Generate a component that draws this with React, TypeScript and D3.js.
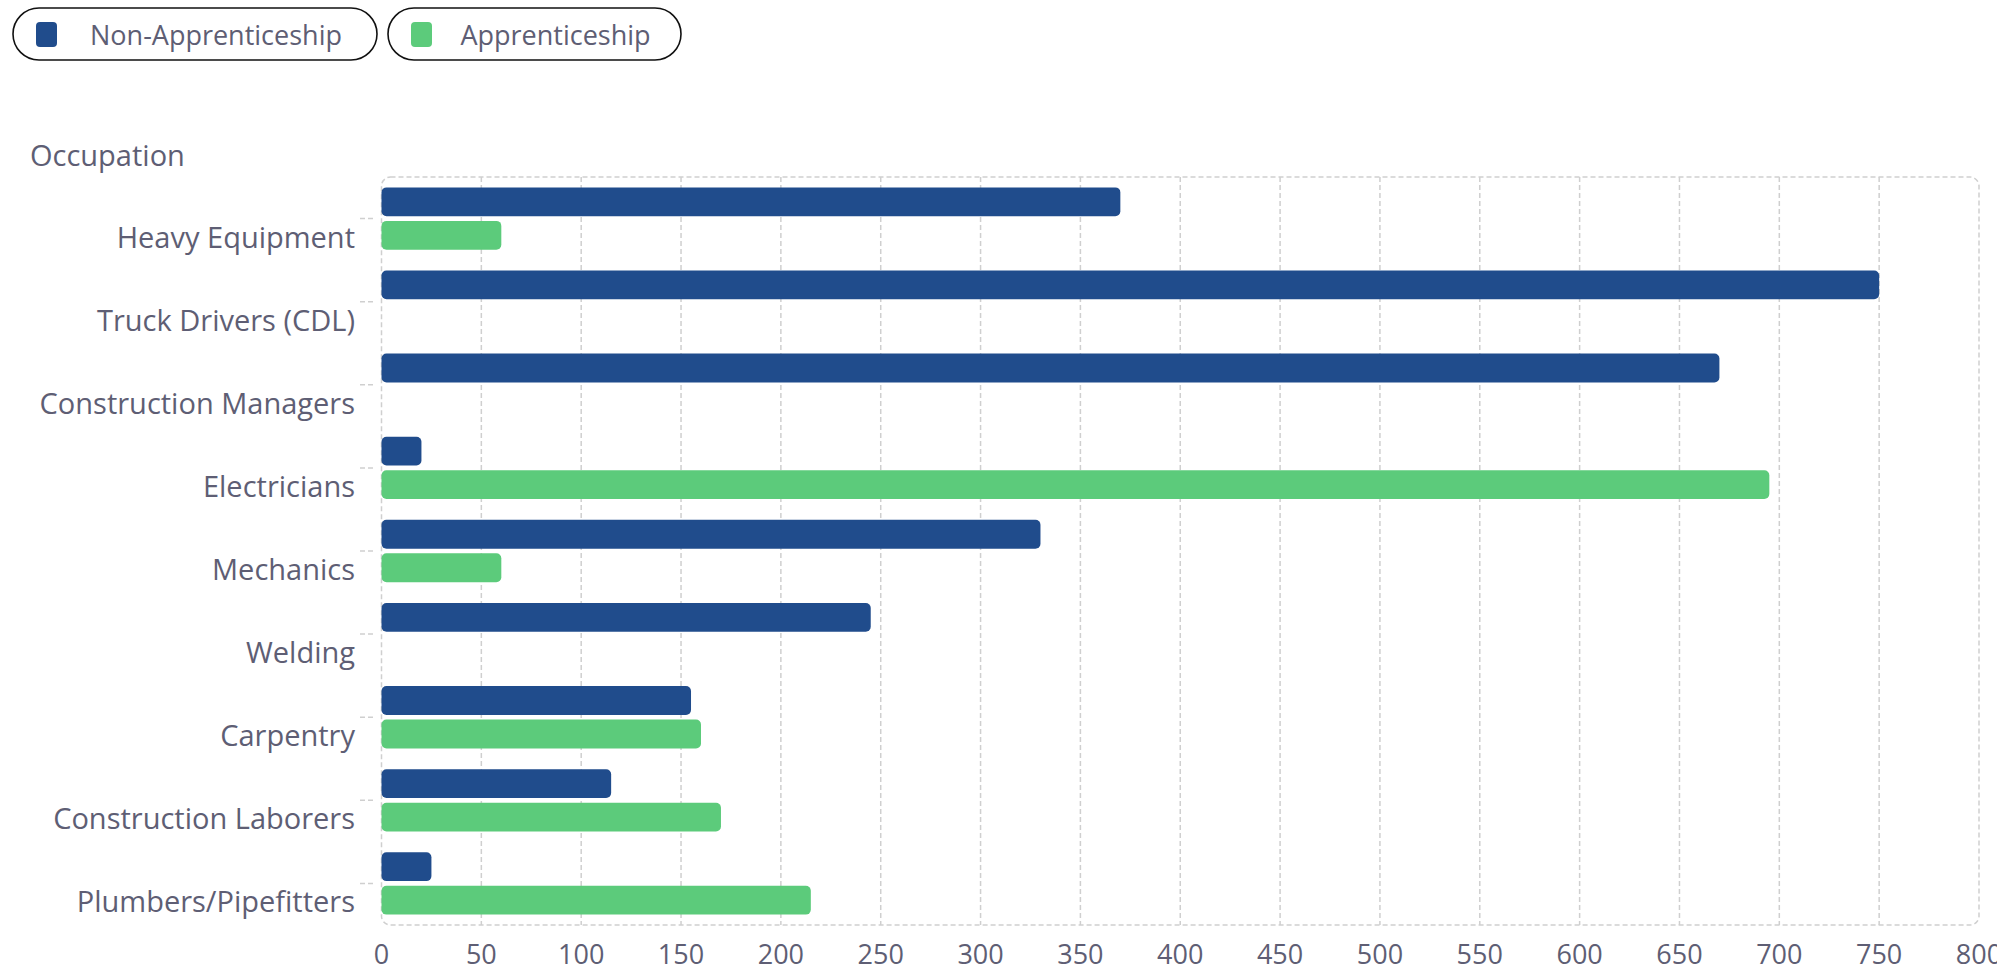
import React from "react";
import * as d3 from "d3";

const categories = [
  "Heavy Equipment",
  "Truck Drivers (CDL)",
  "Construction Managers",
  "Electricians",
  "Mechanics",
  "Welding",
  "Carpentry",
  "Construction Laborers",
  "Plumbers/Pipefitters",
];
const seriesNames = ["Non-Apprenticeship", "Apprenticeship"];
const nonApprenticeship = [370, 750, 670, 20, 330, 245, 155, 115, 25];
const apprenticeship = [60, 0, 0, 695, 60, 0, 160, 170, 215];
const xTicks = [0, 50, 100, 150, 200, 250, 300, 350, 400, 450, 500, 550, 600, 650, 700, 750, 800];
const colors = ["#204c8c", "#5ccb7b"];

const W = 2007;
const H = 972;
const FONT = "'Open Sans', 'Noto Sans', sans-serif";
const TEXT = "#5e5e74";
const GRID = "#cfcfcf";

export default function App() {
  const left = 381.5, right = 1979, top = 177, bottom = 925;
  const x = d3.scaleLinear().domain([0, 800]).range([left, right]);
  const y0 = d3.scaleBand<string>().domain(categories).range([top, bottom]).paddingInner(0.25).paddingOuter(0.125);
  const y1 = d3.scaleBand<string>().domain(seriesNames).range([0, y0.bandwidth()]).paddingInner(0.14);
  const values = [nonApprenticeship, apprenticeship];
  const step = y0.step();

  const legendItems = [
    { name: seriesNames[0], x: 13, w: 364, color: colors[0] },
    { name: seriesNames[1], x: 388, w: 293, color: colors[1] },
  ];

  return (
    <svg width={W} height={H} style={{ position: "absolute", left: 0, top: 0, fontFamily: FONT }}>
      <defs>
        <clipPath id="pageClip">
          <rect x={0} y={0} width={1997} height={H} />
        </clipPath>
      </defs>
      {/* legend */}
      {legendItems.map((l) => (
        <g key={l.name}>
          <rect x={l.x} y={8} width={l.w} height={52} rx={26} fill="#fff" stroke="#111" strokeWidth={1.6} />
          <rect x={l.x + 23} y={22} width={21} height={25} rx={4} fill={l.color} />
          <text x={l.x + l.w / 2 + 21} y={34} textAnchor="middle" dominantBaseline="central" fontSize={27} fill={TEXT}>{l.name}</text>
        </g>
      ))}

      {/* y axis title */}
      <text x={30} y={166} fontSize={29} fill={TEXT}>Occupation</text>

      {/* grid lines */}
      {xTicks.slice(1, -1).map((t) => (
        <line key={t} x1={x(t)} x2={x(t)} y1={top} y2={bottom} stroke={GRID} strokeWidth={1.5} strokeDasharray="5,3" />
      ))}
      {/* plot border */}
      <rect x={left} y={top} width={right - left} height={bottom - top} rx={9} fill="none" stroke={GRID} strokeWidth={1.5} strokeDasharray="5,3" />

      {/* category ticks and labels */}
      {categories.map((c) => {
        const cy = (y0(c) as number) - (step - y0.bandwidth()) / 2 + step / 2;
        return (
          <g key={c}>
            <line x1={360} x2={373} y1={cy} y2={cy} stroke={GRID} strokeWidth={1.5} strokeDasharray="5,3" />
            <text x={355} y={cy + 29} textAnchor="end" fontSize={29} fill={TEXT}>{c}</text>
          </g>
        );
      })}

      {/* bars */}
      {categories.map((c, i) => (
        <g key={c} transform={`translate(0,${y0(c)})`}>
          {seriesNames.map((s, si) => {
            const v = values[si][i];
            if (!v) return null;
            return (
              <rect key={s} x={x(0)} y={y1(s)} width={x(v) - x(0)} height={y1.bandwidth()} rx={5} fill={colors[si]} />
            );
          })}
        </g>
      ))}

      {/* x tick labels */}
      <g clipPath="url(#pageClip)">
        {xTicks.map((t) => (
          <text key={t} x={x(t)} y={964} textAnchor="middle" fontSize={27} fill={TEXT}>{t}</text>
        ))}
      </g>
    </svg>
  );
}
